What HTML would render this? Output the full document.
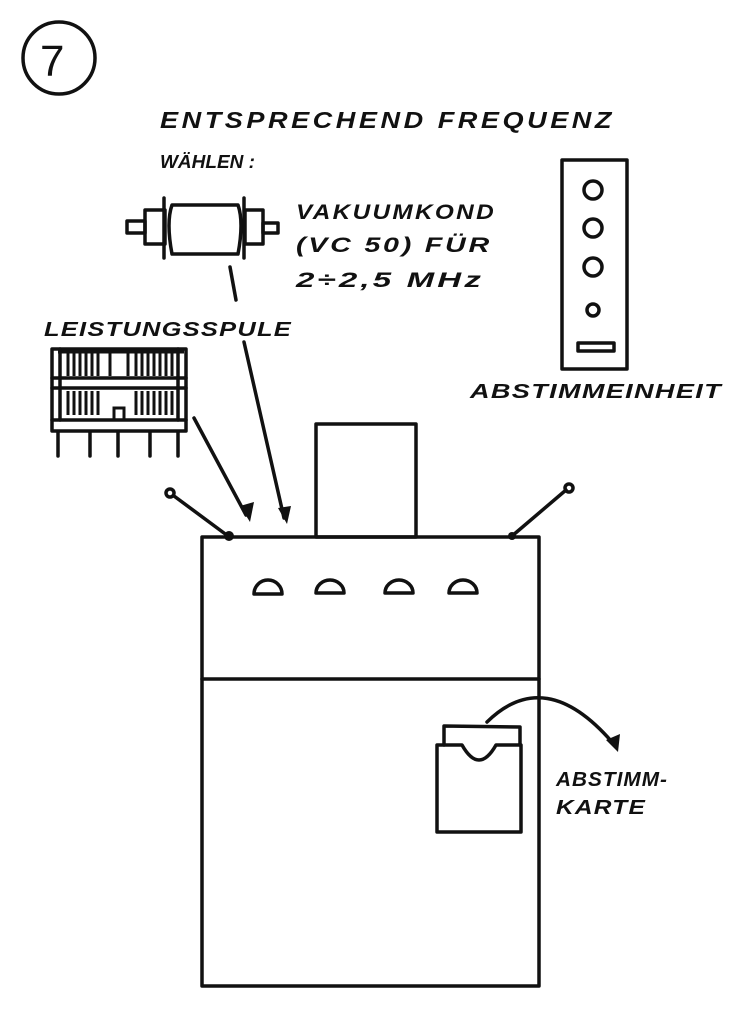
<!DOCTYPE html>
<html><head><style>
body{margin:0;background:#fff;}
svg{display:block}
text{font-family:"Liberation Sans",sans-serif;font-weight:bold;font-style:italic;fill:#111;}
</style></head><body>
<svg width="748" height="1024" viewBox="0 0 748 1024" xmlns="http://www.w3.org/2000/svg">
<g fill="none" stroke="#111" stroke-width="3.5" stroke-linecap="round" stroke-linejoin="round">
<circle cx="59" cy="58" r="36"/>
<rect x="127" y="221" width="18" height="12"/>
<rect x="145" y="210" width="20" height="34"/>
<path d="M172 205 Q166 222 172 254 L238 254 Q244 222 238 205 Z"/>
<line x1="164" y1="198" x2="164" y2="258"/><line x1="244" y1="198" x2="244" y2="258"/>
<rect x="245" y="210" width="18" height="34"/>
<rect x="263" y="223" width="15" height="10"/>
<rect x="52" y="349" width="134" height="82"/>
<line x1="52" y1="378" x2="186" y2="378"/><line x1="52" y1="388" x2="186" y2="388"/>
<line x1="52" y1="420" x2="186" y2="420"/>
<line x1="60" y1="349" x2="60" y2="420"/><line x1="178" y1="349" x2="178" y2="420"/>
<line x1="58" y1="432" x2="58" y2="456"/><line x1="90" y1="432" x2="90" y2="456"/><line x1="118" y1="432" x2="118" y2="456"/><line x1="150" y1="432" x2="150" y2="456"/><line x1="178" y1="432" x2="178" y2="456"/>
<line x1="230" y1="267" x2="236" y2="300"/>
<line x1="244" y1="342" x2="284" y2="518"/>
<line x1="194" y1="418" x2="246" y2="515"/>
<rect x="202" y="537" width="337" height="449"/>
<line x1="202" y1="679" x2="539" y2="679"/>
<rect x="316" y="424" width="100" height="113"/>
<path d="M254 594 A14 14 0 0 1 282 594 Z M316 593 A14 13 0 0 1 344 593 Z M385 593 A14 13 0 0 1 413 593 Z M449 593 A14 13 0 0 1 477 593 Z"/>
<line x1="174" y1="496" x2="228" y2="536"/><circle cx="170" cy="493" r="4"/>
<line x1="512" y1="536" x2="566" y2="490"/><circle cx="569" cy="488" r="4"/>
<rect x="562" y="160" width="65" height="209"/>
<circle cx="593" cy="190" r="9"/><circle cx="593" cy="228" r="9"/><circle cx="593" cy="267" r="9"/><circle cx="593" cy="310" r="6"/>
<rect x="578" y="343" width="36" height="8"/>
<path d="M444 745 L444 726 L520 727 L520 745"/>
<path d="M437 832 L437 745 L462 745 Q479 775 496 745 L521 745 L521 832 Z"/>
<path d="M487 722 Q545 665 612 742"/>
</g>
<g stroke="#111" stroke-width="3">
<path d="M68 353V376M74 353V376M80 353V376M86 353V376M92 353V376M98 353V376M136 353V376M142 353V376M148 353V376M154 353V376M160 353V376M166 353V376M172 353V376"/>
<path d="M68 391V415M74 391V415M80 391V415M86 391V415M92 391V415M98 391V415M136 391V415M142 391V415M148 391V415M154 391V415M160 391V415M166 391V415M172 391V415"/>
<path d="M110 352V376M128 352V376M58 352H184M58 388H184"/>
</g>
<g fill="none" stroke="#111" stroke-width="3"><rect x="114" y="408" width="10" height="12"/></g>
<g fill="#111">
<polygon points="240,506 254,502 250,522"/>
<polygon points="278,508 291,506 287,524"/>
<polygon points="606,740 620,734 618,752"/>
<circle cx="229" cy="536" r="5"/><circle cx="512" cy="536" r="4"/>
</g>
<text x="40" y="76" font-size="44" style="font-style:normal;font-weight:normal">7</text>
<text x="160" y="128" font-size="23" letter-spacing="3" textLength="455" lengthAdjust="spacingAndGlyphs">ENTSPRECHEND  FREQUENZ</text>
<text x="160" y="168" font-size="18" textLength="95" lengthAdjust="spacingAndGlyphs">WÄHLEN :</text>
<text x="296" y="219" font-size="21" letter-spacing="2" textLength="200" lengthAdjust="spacingAndGlyphs">VAKUUMKOND</text>
<text x="296" y="252" font-size="21" letter-spacing="2" textLength="196" lengthAdjust="spacingAndGlyphs">(VC 50) FÜR</text>
<text x="296" y="287" font-size="21" letter-spacing="2" textLength="188" lengthAdjust="spacingAndGlyphs">2÷2,5 MHz</text>
<text x="44" y="336" font-size="20" letter-spacing="1" textLength="248" lengthAdjust="spacingAndGlyphs">LEISTUNGSSPULE</text>
<text x="470" y="398" font-size="20" letter-spacing="1" textLength="252" lengthAdjust="spacingAndGlyphs">ABSTIMMEINHEIT</text>
<text x="556" y="786" font-size="20" letter-spacing="1" textLength="112" lengthAdjust="spacingAndGlyphs">ABSTIMM-</text>
<text x="556" y="814" font-size="20" letter-spacing="1" textLength="90" lengthAdjust="spacingAndGlyphs">KARTE</text>
</svg>
</body></html>
